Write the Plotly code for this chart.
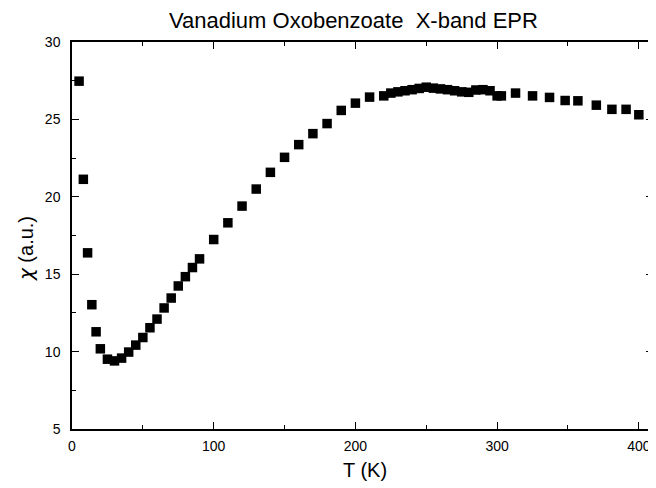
import plotly.graph_objects as go

# Data
T_K = [5, 8, 11, 14, 17, 20, 25, 30, 35, 40, 45, 50, 55, 60, 65, 70, 75, 80, 85, 90,
       100, 110, 120, 130, 140, 150, 160, 170, 180, 190, 200, 210,
       220, 225, 230, 235, 240, 245, 250, 255, 260, 265, 270, 275, 280, 285, 290, 295,
       300, 303, 313, 325, 337, 348, 357, 370, 381, 391, 400]
chi = [27.47, 21.13, 16.38, 13.03, 11.28, 10.18, 9.51, 9.40, 9.58, 9.97, 10.42, 10.91,
       11.54, 12.10, 12.82, 13.46, 14.24, 14.84, 15.43, 15.99,
       17.24, 18.32, 19.40, 20.50, 21.58, 22.55, 23.37, 24.08, 24.73, 25.58, 26.05, 26.44,
       26.52, 26.70, 26.78, 26.85, 26.92, 27.00, 27.08, 27.02, 26.97, 26.92, 26.85, 26.78,
       26.75, 26.90, 26.92, 26.85,
       26.52, 26.52, 26.70, 26.52, 26.42, 26.22, 26.20, 25.92, 25.65, 25.65, 25.30]

title_text = "Vanadium Oxobenzoate  X-band EPR"
x_title = "T (K)"
y_title = '<span style="font-family:DejaVu Sans"><i>χ</i></span> (a.u.)'

FONT = "Liberation Sans, Arial, sans-serif"

fig = go.Figure(go.Scatter(
    x=T_K, y=chi, mode="markers",
    marker=dict(symbol="square", size=9.5, color="black", line=dict(width=0)),
))

axis_common = dict(
    showgrid=False, zeroline=False, showline=True, linecolor="black", linewidth=1.5,
    mirror="allticks", ticks="inside", ticklen=7, tickwidth=1.2, tickcolor="black",
    tickfont=dict(family=FONT, size=14, color="black"),
)

fig.update_xaxes(range=[0, 410], tickvals=[0, 100, 200, 300, 400],
                 minor=dict(tickvals=[50, 150, 250, 350], ticks="inside", ticklen=4,
                            tickwidth=1.2, tickcolor="black"),
                 ticklabelstandoff=3, **axis_common)
fig.update_yaxes(range=[5, 30], tickvals=[5, 10, 15, 20, 25, 30],
                 minor=dict(tickvals=[7.5, 12.5, 17.5, 22.5, 27.5], ticks="inside", ticklen=4,
                            tickwidth=1.2, tickcolor="black"),
                 ticklabelstandoff=7, **axis_common)

# The page body adds an 8 px offset, so the figure is 8 px smaller than the window.
fig.update_layout(
    width=648, height=480,
    margin=dict(l=64, r=1, t=34, b=59),
    paper_bgcolor="white", plot_bgcolor="white",
    showlegend=False,
    font=dict(family=FONT, color="black"),
    annotations=[
        dict(text=title_text, xref="paper", yref="paper", x=0.4846, y=1.0, yshift=22,
             xanchor="center", yanchor="middle", showarrow=False,
             font=dict(family=FONT, size=22, color="black")),
        dict(text=x_title, xref="paper", yref="paper", x=0.504, y=0, yshift=-41,
             xanchor="center", yanchor="middle", showarrow=False,
             font=dict(family=FONT, size=20, color="black")),
        dict(text=y_title, xref="paper", yref="paper", x=0, xshift=-46, y=0.465,
             xanchor="center", yanchor="middle", textangle=-90, showarrow=False,
             font=dict(family=FONT, size=20, color="black")),
    ],
)

fig.write_html("out.html")
